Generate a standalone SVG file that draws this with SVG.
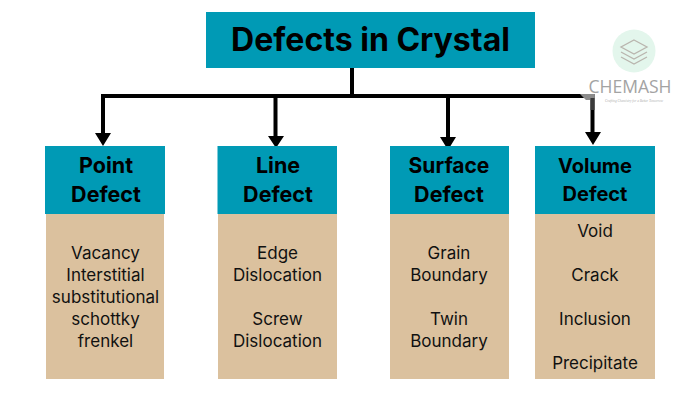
<svg xmlns="http://www.w3.org/2000/svg" width="700" height="400" viewBox="0 0 700 400">
<style>
text{font-family:"Inter","Noto Sans","Liberation Sans",sans-serif;text-anchor:middle;fill:#000}
.h{fill:#009ab5}
.b{fill:#dbc19e}
.t{font-size:21.500px;font-weight:700}
.s{font-size:17px;fill:#111}
.c{fill:none;stroke:#000;stroke-width:4}
.a{fill:#000}
</style>
<rect width="700" height="400" fill="#fff"/>
<g id="connectors">
<path class="c" d="M352 68V96M102.500 96H594.500M103 94V136M275.500 96V136M448 96V137M592.500 94V134"/>
<path fill="#8c8c8c" d="M580 94H594.500V98H590.500V100H586Z"/>
<path fill="#3a3a3a" d="M590.500 98H594.500V110H590.500Z"/>
<path class="a" d="M95 133H111L103 146ZM268 136H284L276 148ZM440 137H456L448 150ZM585 132H601L593 145Z"/>
</g>
<g id="root"><rect class="h" x="206" y="12" width="329" height="56"/><text x="370.500" y="51" font-size="32" font-weight="700">Defects in Crystal</text></g>
<g id="logo">
<circle cx="634" cy="51" r="21.500" fill="#e3f6ec"/>
<path d="M634 40L647 47L634 54L621 47Z M621 52L634 59L647 52 M621 57L634 64L647 57" fill="none" stroke="#b9b5ae" stroke-width="1.300"/>
<text x="630" y="93" font-size="19" style="fill:#a3a3a3;font-family:'Open Sans',sans-serif" textLength="83" lengthAdjust="spacingAndGlyphs">CHEMASH</text>
<text x="634" y="102" style="fill:#b0b0b0;font-family:'Liberation Serif',serif;font-style:italic;font-size:4px" textLength="58" lengthAdjust="spacingAndGlyphs">Crafting Chemistry for a Better Tomorrow</text>
</g>
<g id="point"><rect class="b" x="46" y="214" width="118" height="165"/><rect class="h" x="45" y="146" width="120" height="68"/>
<text class="t" x="106" y="173">Point</text><text class="t" x="106" y="202">Defect</text>
<text class="s" x="105.500" y="259">Vacancy</text><text class="s" x="105.500" y="281">Interstitial</text><text class="s" x="105.500" y="303">substitutional</text><text class="s" x="105.500" y="325">schottky</text><text class="s" x="105.500" y="347">frenkel</text></g>
<g id="line"><rect class="b" x="218" y="214" width="119" height="165"/><rect class="h" x="217.500" y="146" width="119.500" height="68"/>
<text class="t" x="278" y="173">Line</text><text class="t" x="278" y="202">Defect</text>
<text class="s" x="277.500" y="259">Edge</text><text class="s" x="277.500" y="281">Dislocation</text><text class="s" x="277.500" y="325">Screw</text><text class="s" x="277.500" y="347">Dislocation</text></g>
<g id="surface"><rect class="b" x="390" y="214" width="119" height="165"/><rect class="h" x="390" y="146" width="119" height="68"/>
<text x="449" y="173" font-size="21" font-weight="700">Surface</text><text class="t" x="449" y="202">Defect</text>
<text class="s" x="449" y="259">Grain</text><text class="s" x="449" y="281">Boundary</text><text class="s" x="449" y="325">Twin</text><text class="s" x="449" y="347">Boundary</text></g>
<g id="volume"><rect class="b" x="535" y="212" width="120" height="167"/><rect class="h" x="535" y="146" width="120" height="68"/>
<text x="595" y="173" font-size="20" font-weight="700">Volume</text><text x="595" y="201" font-size="20" font-weight="700">Defect</text>
<text class="s" x="595" y="237">Void</text><text class="s" x="595" y="281">Crack</text><text class="s" x="595" y="325">Inclusion</text><text class="s" x="595" y="369">Precipitate</text></g>
</svg>
